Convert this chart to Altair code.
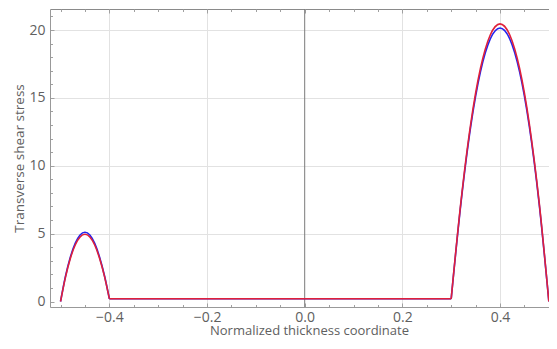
import altair as alt
import pandas as pd

# ---- data ----
left_x = [-0.50, -0.49, -0.48, -0.47, -0.46, -0.45, -0.44, -0.43, -0.42, -0.41, -0.40]
left_blue = [0.0, 1.84, 3.26, 4.28, 4.90, 5.10, 4.90, 4.28, 3.26, 1.90, 0.20]
left_red = [0.0, 1.78, 3.17, 4.16, 4.75, 4.95, 4.75, 4.16, 3.17, 1.85, 0.20]

flat_x = [-0.40, 0.30]
flat_blue = [0.20, 0.20]
flat_red = [0.20, 0.20]

right_x = [0.30, 0.32, 0.34, 0.36, 0.38, 0.40, 0.42, 0.44, 0.46, 0.48, 0.50]
right_blue = [0.20, 7.25, 12.90, 16.93, 19.34, 20.15, 19.34, 16.93, 12.90, 7.25, 0.0]
right_red = [0.20, 7.36, 13.09, 17.18, 19.63, 20.45, 19.63, 17.18, 13.09, 7.36, 0.0]

x_major = [-0.4, -0.2, 0.0, 0.2, 0.4]
x_grid = [-0.4, -0.2, 0.2, 0.4]
x_minor = [-0.5, -0.45, -0.4, -0.35, -0.3, -0.25, -0.2, -0.15, -0.1, -0.05, 0.0,
           0.05, 0.1, 0.15, 0.2, 0.25, 0.3, 0.35, 0.4, 0.45, 0.5]
y_major = [0, 5, 10, 15, 20]
y_grid = [5, 10, 15, 20]
y_minor = [0, 1, 2, 3, 4, 5, 6, 7, 8, 9, 10, 11, 12, 13, 14, 15, 16, 17, 18, 19, 20, 21]
zero_line = [0.0]

rows = []
for seg, xs_, yb, yr in [("a", left_x, left_blue, left_red),
                         ("b", flat_x, flat_blue, flat_red),
                         ("c", right_x, right_blue, right_red)]:
    for xv, b, r in zip(xs_, yb, yr):
        rows.append({"x": xv, "y": b, "series": "blue", "seg": seg})
        rows.append({"x": xv, "y": r, "series": "red", "seg": seg})
df = pd.DataFrame(rows)

XDOM = [-0.5216, 0.5003]
YDOM = [-0.405, 21.547]
xs = alt.Scale(domain=XDOM, nice=False, zero=False)
ys = alt.Scale(domain=YDOM, nice=False, zero=False)

FONT = "Open Sans"
TXT = "#606060"
FRAME = "#999999"
TICK = "#a0a0a0"

base = alt.Chart(df)


def helper(x_axis, y_axis):
    return base.mark_point(opacity=0).encode(
        x=alt.X("x:Q", scale=xs, axis=x_axis),
        y=alt.Y("y:Q", scale=ys, axis=y_axis),
    )


none_kw = dict(labels=False, title=None, domain=False, grid=False)

grid_layer = helper(
    alt.Axis(orient="top", values=x_grid, grid=True, gridColor="#e2e2e2", ticks=False,
             labels=False, title=None, domain=True, domainColor="#8a8a8a"),
    alt.Axis(orient="left", values=y_grid, grid=True, gridColor="#e2e2e2", ticks=False,
             labels=False, title=None, domain=False),
)

major_ticks = helper(
    alt.Axis(orient="bottom", values=x_major, offset=-4, tickSize=4, tickColor=TICK, **none_kw),
    alt.Axis(orient="left", values=y_major, offset=-4, tickSize=4, tickColor=TICK, **none_kw),
)
minor_ticks = helper(
    alt.Axis(orient="bottom", values=x_minor, offset=-2.5, tickSize=2.5, tickColor=TICK, **none_kw),
    alt.Axis(orient="left", values=y_minor, offset=-2.5, tickSize=2.5, tickColor=TICK, **none_kw),
)
top_major = helper(
    alt.Axis(orient="top", values=x_major, offset=-4, tickSize=4, tickColor=TICK, **none_kw),
    None,
)
top_minor = helper(
    alt.Axis(orient="top", values=x_minor, offset=-2.5, tickSize=2.5, tickColor=TICK, **none_kw),
    None,
)

zero_rule = alt.Chart(pd.DataFrame({"x0": zero_line})).mark_rule(
    color="#7a7a7a", strokeWidth=1
).encode(x=alt.X("x0:Q", scale=xs, axis=None))

label_expr = "replace(format(datum.value, '.1f'), '-', '\u2212')"

blue_line = base.transform_filter(alt.datum.series == "blue").mark_line(
    color="#2222ee", strokeWidth=1.6, interpolate="monotone"
).encode(
    x=alt.X("x:Q", scale=xs, axis=alt.Axis(
        orient="bottom", values=x_major, labelExpr=label_expr, grid=False, ticks=False,
        domain=True, domainColor=FRAME, labelPadding=3,
        title="Normalized thickness coordinate", titlePadding=0, titleX=259,
        titleFontSize=13)),
    y=alt.Y("y:Q", scale=ys, axis=alt.Axis(
        orient="left", values=y_major, grid=False, ticks=False, domain=True,
        domainColor=FRAME, labelPadding=5, title="Transverse shear stress", titlePadding=2,
        titleFontSize=13.5)),
    detail="seg:N",
)

red_line = base.transform_filter(alt.datum.series == "red").mark_line(
    color="#e0203a", strokeWidth=1.6, interpolate="monotone"
).encode(
    x=alt.X("x:Q", scale=xs, axis=None),
    y=alt.Y("y:Q", scale=ys, axis=None),
    detail="seg:N",
)

chart = alt.layer(
    grid_layer, zero_rule, major_ticks, minor_ticks, top_major, top_minor, blue_line, red_line
).resolve_axis(x="independent", y="independent").properties(
    width=499,
    height=298,
    padding={"left": 42, "top": 1, "right": 0, "bottom": 30},
    autosize=alt.AutoSizeParams(type="none"),
).configure_view(stroke=None).configure_axis(
    labelFont=FONT, titleFont=FONT, labelFontSize=14, titleFontSize=14,
    labelColor=TXT, titleColor=TXT, titleFontWeight="normal",
)

chart.save("out.html", embed_options={"renderer": "svg", "actions": False})
